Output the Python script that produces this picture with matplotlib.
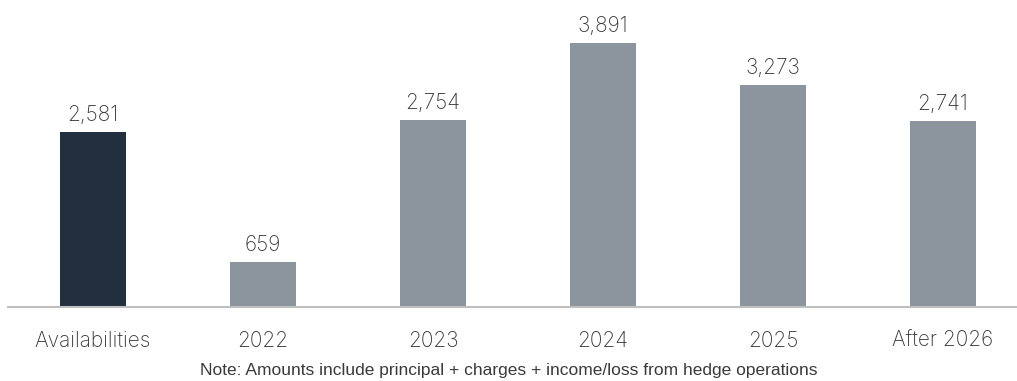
import matplotlib
matplotlib.use("Agg")
from matplotlib import pyplot as plt
import numpy as np

categories = ["Availabilities", "2022", "2023", "2024", "2025", "After 2026"]
values = [2581, 659, 2754, 3891, 3273, 2741]
value_labels = ["2,581", "659", "2,754", "3,891", "3,273", "2,741"]
note = "Note: Amounts include principal + charges + income/loss from hedge operations"

dark = "#222f3e"
grey = "#8c959e"
text_col = "#3a3a3a"
label_font = dict(family="Inter", weight="light", fontsize=15)

fig = plt.figure(figsize=(10.17, 3.81), dpi=100)
ax = fig.add_axes([0, 74 / 381, 1, 307 / 381])

x = np.arange(len(categories))
colors = [dark] + [grey] * (len(categories) - 1)
ax.bar(x, values, width=0.39, color=colors, zorder=2)

# etiquetas de valor encima de cada barra
for xi, v, lab in zip(x, values, value_labels):
    ax.text(xi, v + 100, lab, ha="center", va="bottom", color=text_col, **label_font)

ax.set_xlim(-0.547, 5.435)
ax.set_ylim(0, 4522)
ax.set_xticks(x)
ax.set_xticklabels(categories, color=text_col, **label_font)
ax.tick_params(axis="x", length=0, pad=17)
ax.set_yticks([])
for s in ["top", "left", "right"]:
    ax.spines[s].set_visible(False)
ax.spines["bottom"].set_color("#bfbfbf")
ax.spines["bottom"].set_linewidth(1.5)
ax.spines["bottom"].set_bounds(-0.5, 5.435)
ax.patch.set_alpha(0)

fig.text(0.5, 11 / 381, note, ha="center", va="center", fontsize=12.5,
         family="Liberation Sans", color=text_col)

fig.savefig("out.png", dpi=100)
